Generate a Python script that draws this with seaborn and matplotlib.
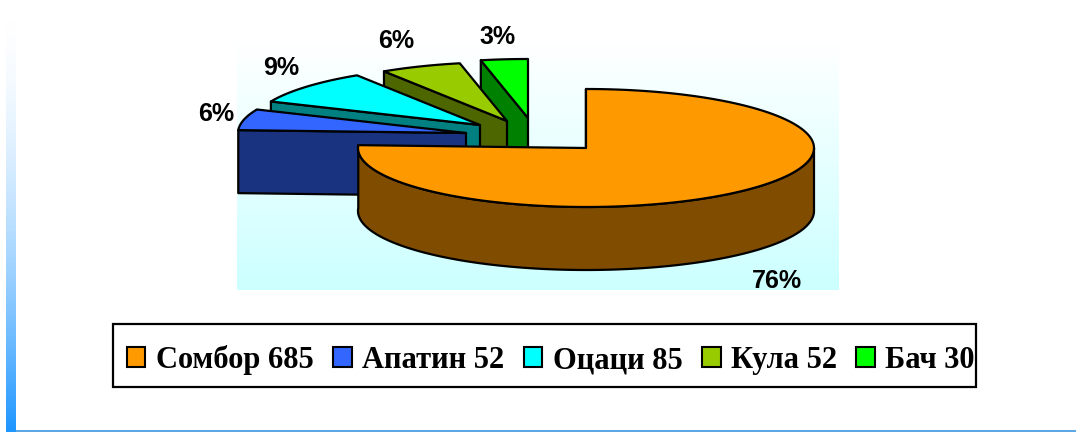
import numpy as np
import matplotlib
matplotlib.use('Agg')
import matplotlib.pyplot as plt
from matplotlib.colors import LinearSegmentedColormap
from matplotlib.patches import Patch, Rectangle
from matplotlib.transforms import IdentityTransform
import seaborn as sns

# Data
towns = ['Сомбор', 'Апатин', 'Оцаци', 'Кула', 'Бач']
counts = [685, 52, 85, 52, 30]

# Colours
top_colors = ['#FF9900', '#3366FF', '#00FFFF', '#99CC00', '#00FF00']
side_colors = ['#804D00', '#1A3380', '#008080', '#4D6600', '#008000']

# Layout, in pixels of the 1076x432 picture
RX, RY, DEPTH = 228, 59, 63
centers = [(586, 148), (466, 133), (480, 125), (507, 121), (528, 118)]
label_pos = [(777, 281), (216, 114), (281, 68), (396, 41), (498, 37)]


def rim(center, t0, t1):
    t = np.radians(np.linspace(t0, t1, 200))
    return center[0] + RX * np.sin(t), center[1] - RY * np.cos(t)


def draw_wedge(ax, center, t0, t1, top, side, z):
    cx, cy = center
    x, y = rim(center, t0, t1)
    edge = dict(edgecolor='black', linewidth=1.6, joinstyle='round', zorder=z)
    # cut face that looks at the viewer
    ax.fill([x[0], cx, cx, x[0]], [y[0], cy, cy + DEPTH, y[0] + DEPTH], facecolor=side, **edge)
    # outer wall, only the front half of the rim
    if t0 < 90:
        fx, fy = rim(center, 90, t1)
        ax.fill(np.r_[fx, fx[::-1]], np.r_[fy, fy[::-1] + DEPTH], facecolor=side, **edge)
    # top surface
    ax.fill(np.r_[cx, x], np.r_[cy, y], facecolor=top, **edge)


def main():
    sns.set_theme(style='white')
    plt.rcParams['font.family'] = ['Liberation Sans', 'DejaVu Sans']

    fig = plt.figure(figsize=(10.76, 4.32), dpi=100)
    ax = fig.add_axes([0, 0, 1, 1])
    ax.set_axis_off()

    # plot area gradient
    cmap = LinearSegmentedColormap.from_list('area', ['#FFFFFF', '#CCFFFF'])
    ax.imshow(np.linspace(0, 1, 256).reshape(-1, 1), cmap=cmap, aspect='auto',
              extent=(237, 839, 290, 40), zorder=0)

    # slide decoration on the left and along the bottom
    strip = LinearSegmentedColormap.from_list('strip', ['#FFFFFF', '#1E96FF'])
    ax.imshow(np.linspace(0, 1, 256).reshape(-1, 1) ** 1.8, cmap=strip, aspect='auto',
              extent=(6, 16, 432, 0), zorder=0)
    ax.plot([16, 1076], [431.2, 431.2], color='#3D96E0', lw=1.2, zorder=1)

    ax.set_xlim(0, 1076)
    ax.set_ylim(432, 0)

    # angles run clockwise from twelve o'clock
    total = sum(counts)
    stops = np.r_[0, np.cumsum(counts)] / total * 360

    # back wedges first, the big one last
    for i in range(len(counts) - 1, -1, -1):
        draw_wedge(ax, centers[i], stops[i], stops[i + 1], top_colors[i], side_colors[i], 5 + len(counts) - i)

    for c, (x, y) in zip(counts, label_pos):
        ax.text(x, y, f'{c / total * 100:.0f}%', ha='center', va='center',
                fontsize=18, fontweight='bold', color='black', zorder=20)

    # legend frame on its own, the text runs almost to its right side
    ax.add_patch(Rectangle((113, 323.5), 863, 63, facecolor='white', edgecolor='black',
                           linewidth=1.6, zorder=15))

    handles = [Patch(facecolor=c, edgecolor='black', linewidth=1.5) for c in top_colors]
    labels = [f'{t} {c}' for t, c in zip(towns, counts)]
    # anchor in pixels from the bottom left corner
    leg = ax.legend(handles, labels, ncols=5, loc='center left',
                    bbox_to_anchor=(126.5, 72), bbox_transform=IdentityTransform(),
                    prop={'family': 'Liberation Serif', 'weight': 'bold', 'size': 22},
                    labelcolor='black', frameon=False,
                    borderpad=0, handlelength=0.62, handleheight=0.62,
                    handletextpad=0.33, columnspacing=0.64, borderaxespad=0)
    leg.set_zorder(20)

    fig.savefig('out.png', dpi=100)


if __name__ == '__main__':
    main()
